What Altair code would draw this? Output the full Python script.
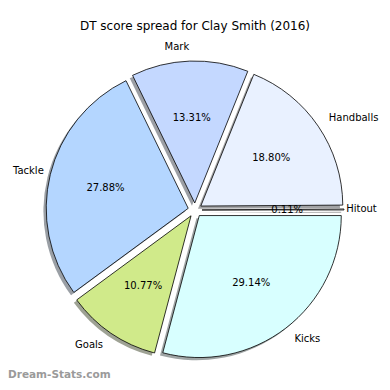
import math
import altair as alt
import pandas as pd

# Data in matplotlib (counter-clockwise from east) order
labels = ["Hitout", "Handballs", "Mark", "Tackle", "Goals", "Kicks"]
values = [0.11, 18.80, 13.31, 27.88, 10.77, 29.14]
colors = ["#ffffff", "#e9f1ff", "#c4d8ff", "#b4d6ff", "#d0ea8a", "#d8ffff"]


def shade(hexcol, f=0.3):
    r, g, b = (int(hexcol[i:i + 2], 16) for i in (1, 3, 5))
    return "#%02x%02x%02x" % (int(r * f), int(g * f), int(b * f))


shadow_colors = [shade(c) for c in colors]

df = pd.DataFrame({
    "label": labels,
    "value": values,
    "idx": list(range(len(labels))),
    "color": colors,
    "shadow": shadow_colors,
})

W, H = 374, 344
R = 142          # pie radius (px)
EXPLODE = 7      # explode distance (px)
SH = 2.8         # shadow offset (px)
CX, CY = 187, 172  # pie centre inside the plot area
START = math.pi / 2
LR = 1.1 * R

base = alt.Chart(df).transform_joinaggregate(
    total="sum(value)"
).transform_window(
    cum="sum(value)", sort=[alt.SortField("idx", order="descending")]
).transform_calculate(
    mid=f"({START}) + 2*PI*(datum.cum - datum.value/2)/datum.total",
).transform_calculate(
    dx=f"{EXPLODE}*sin(datum.mid)",
    dy=f"-{EXPLODE}*cos(datum.mid)",
    pct="format(datum.value, '.2f') + '%'",
    lx=f"{CX} + {LR}*sin(datum.mid)",
    tw="5.8*length(datum.label) + 1",
).transform_calculate(
    # keep the outer labels inside the drawing (approximate text width)
    ldx=(f"datum.dx < 0 ? datum.dx + max(0, datum.tw - (datum.lx + datum.dx))"
         f" : datum.dx - max(0, datum.lx + datum.dx + datum.tw - {W})"),
).encode(
    theta=alt.Theta("value:Q", stack=True,
                    scale=alt.Scale(range=[START, START + 2 * math.pi])),
    order=alt.Order("idx:Q", sort="descending"),
    x=alt.value(CX),
    y=alt.value(CY),
)

shadow = base.mark_arc(
    outerRadius=R, opacity=0.5,
    xOffset=alt.expr(f"datum.dx - {SH}"), yOffset=alt.expr(f"datum.dy + {SH}"),
).encode(fill=alt.Fill("shadow:N", scale=None))

slices = base.mark_arc(
    outerRadius=R, stroke="black", strokeWidth=0.8,
    xOffset=alt.expr("datum.dx"), yOffset=alt.expr("datum.dy"),
).encode(fill=alt.Fill("color:N", scale=None))

names = base.mark_text(
    radius=LR, fontSize=10, font="DejaVu Sans", color="black",
    baseline="middle",
    align=alt.expr("datum.dx >= 0 ? 'left' : 'right'"),
    xOffset=alt.expr("datum.ldx"), yOffset=alt.expr("datum.dy"),
).encode(text="label:N")

pcts = base.mark_text(
    radius=0.6 * R, fontSize=10, font="DejaVu Sans", color="black",
    baseline="middle", align="center",
    xOffset=alt.expr("datum.dx"), yOffset=alt.expr("datum.dy"),
).encode(text="pct:N")

watermark = alt.Chart(pd.DataFrame({"t": ["Dream-Stats.com"]})).mark_text(
    fontSize=10.5, font="DejaVu Sans", fontWeight="bold", color="#9a9a9a",
    align="left", baseline="middle",
).encode(text="t:N", x=alt.value(0), y=alt.value(337))

chart = alt.layer(shadow, slices, names, pcts, watermark).properties(
    width=W, height=H,
    autosize=alt.AutoSizeParams(type="none"),
    padding={"top": 30, "left": 0, "right": 0, "bottom": 0},
    title=alt.TitleParams(
        "DT score spread for Clay Smith (2016)",
        fontSize=12, font="DejaVu Sans", fontWeight="normal",
        color="black", anchor="middle", offset=5,
    ),
).configure_view(stroke=None)

chart.save("out.html", embed_options={"renderer": "svg", "actions": False})
